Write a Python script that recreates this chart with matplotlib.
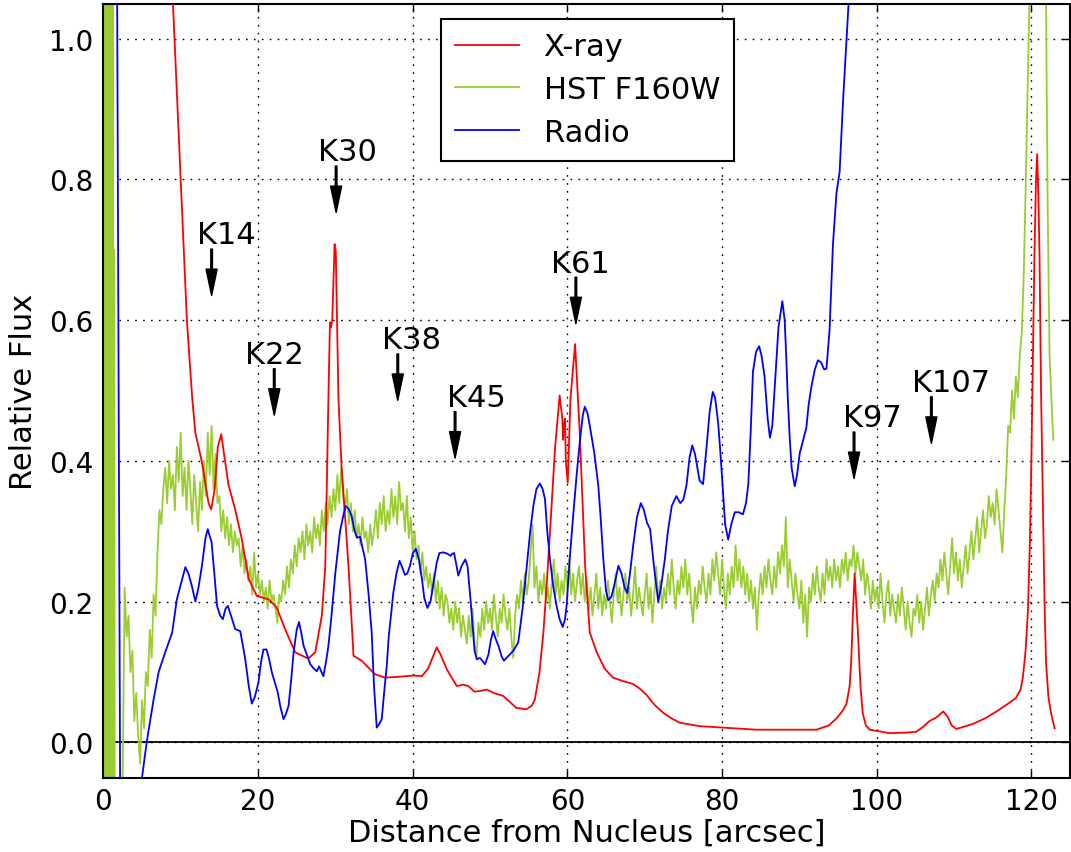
import numpy as np
import matplotlib
matplotlib.use("Agg")
import matplotlib.pyplot as plt

# ---------------- data ----------------
xray_x = [8.5, 9.0, 9.2, 10.0, 10.8, 11.5, 11.9, 12.75, 13.6, 13.95, 14.4, 14.8, 15.25, 15.6, 16.2,
          17.05, 17.9, 18.8, 19.85, 21.4, 22.4, 23.5, 24.8, 26.5, 27.4, 28.25, 28.7, 29.1, 29.3,
          29.45, 29.6, 29.9, 30.05, 30.4, 30.8, 31.7, 32.35, 33.4, 35.1, 36.4, 38.0, 40.1, 41.2,
          42.0, 43.1, 43.6, 44.4, 45.7, 46.5, 47.2, 48.0, 48.7, 49.6, 50.5, 51.7, 52.5, 53.4,
          54.7, 55.4, 55.8, 56.4, 56.9, 57.3, 57.75, 58.4, 59.0, 59.35, 59.45, 59.55, 59.7, 59.8,
          60.05, 60.4, 61.0, 61.6, 62.3, 62.9, 63.8, 64.8, 65.9, 67.2, 68.5, 69.4, 70.2, 71.3,
          72.4, 73.5, 74.5, 77.1, 80.0, 84.4, 92.2, 93.8, 94.8, 95.6, 96.1, 96.5, 96.7, 96.95,
          97.15, 97.35, 97.6, 97.9, 98.2, 98.6, 99.1, 101.7, 104.0, 105.1, 106.0, 106.8, 107.8,
          108.6, 109.2, 109.7, 110.3, 112.4, 114.0, 115.5, 117.0, 118.0, 118.6, 118.9, 119.25,
          119.55, 119.8, 120.0, 120.2, 120.4, 120.6, 120.75, 120.9, 121.05, 121.25, 121.5, 121.7,
          121.9, 122.2, 122.55, 123.0]
xray_y = [1.6, 1.05, 1.0, 0.8, 0.6, 0.488, 0.44, 0.398, 0.34, 0.331, 0.36, 0.42, 0.438, 0.41, 0.365,
          0.331, 0.289, 0.232, 0.208, 0.203, 0.192, 0.161, 0.128, 0.119, 0.128, 0.18, 0.25, 0.488, 0.597,
          0.59, 0.60, 0.708, 0.70, 0.488, 0.393, 0.25, 0.123, 0.116, 0.097, 0.092, 0.093, 0.095, 0.094,
          0.105, 0.135, 0.125, 0.104, 0.08, 0.082, 0.08, 0.072, 0.073, 0.075, 0.07, 0.066, 0.058, 0.049,
          0.047, 0.052, 0.061, 0.1, 0.156, 0.22, 0.298, 0.417, 0.493, 0.46, 0.43, 0.45, 0.46, 0.40,
          0.369, 0.488, 0.566, 0.44, 0.25, 0.156, 0.128, 0.105, 0.092, 0.087, 0.083, 0.076, 0.068, 0.053,
          0.042, 0.034, 0.028, 0.023, 0.021, 0.018, 0.018, 0.024, 0.034, 0.045, 0.055, 0.08, 0.114, 0.19,
          0.24, 0.2, 0.15, 0.08, 0.041, 0.024, 0.018, 0.013, 0.014, 0.015, 0.022, 0.03, 0.036,
          0.044, 0.036, 0.024, 0.019, 0.026, 0.034, 0.044, 0.055, 0.063, 0.075, 0.092, 0.13,
          0.186, 0.28, 0.40, 0.55, 0.694, 0.80, 0.836, 0.78, 0.694, 0.5, 0.33, 0.2,
          0.113, 0.065, 0.041, 0.02]

radio_x = [1.6, 2.25, 4.8, 5.0, 5.6, 6.5, 7.15, 8.0, 8.9, 9.5, 10.6, 11.0, 11.45, 11.9, 12.3, 12.75,
           13.2, 13.5, 14.0, 14.35, 14.7, 15.1, 15.45, 15.8, 16.1, 16.5, 17.05, 17.7, 18.0, 18.35,
           18.8, 19.2, 19.6, 20.05, 20.4, 20.7, 21.1, 21.4, 21.8, 22.55, 22.9, 23.3, 23.6, 23.95,
           24.3, 24.6, 25.0, 25.3, 25.6, 25.9, 26.3, 26.75, 27.2, 27.6, 27.9, 28.2, 28.45, 28.8,
           29.1, 29.5, 30.0, 30.6, 31.3, 31.7, 32.1, 32.5, 32.8, 33.2, 33.85, 34.3, 34.7, 35.0,
           35.35, 35.6, 36.0, 36.3, 36.65, 36.9, 37.5, 37.9, 38.3, 38.6, 39.0, 39.3, 39.65, 40.0,
           40.4, 40.8, 41.2, 41.5, 41.9, 42.3, 42.7, 43.1, 43.45, 44.0, 44.5, 44.9, 45.1, 45.35,
           45.6, 45.9, 46.3, 46.8, 47.1, 47.5, 48.0, 48.3, 48.7, 49.0, 49.35, 49.8, 50.1, 50.4,
           50.8, 51.1, 51.5, 51.8, 52.3, 53.0, 53.65, 54.2, 54.75, 55.2, 55.6, 56.0, 56.45, 56.8,
           57.1, 57.4, 57.75, 58.2, 58.6, 59.0, 59.4, 59.7, 59.9, 60.3, 60.75, 61.2, 61.6, 62.0,
           62.25, 62.6, 62.9, 63.5, 64.0, 64.3, 64.65, 65.0, 65.3, 65.7, 66.1, 66.6, 67.0, 67.4,
           67.75, 68.1, 68.5, 69.0, 69.5, 69.9, 70.3, 70.7, 71.2, 71.75, 72.1, 72.6, 73.0, 73.5,
           74.1, 74.6, 75.0, 75.4, 75.8, 76.15, 76.5, 77.1, 77.55, 78.0, 78.4, 78.8, 79.1, 79.5,
           79.8, 80.1, 80.4, 80.8, 81.2, 81.65, 82.2, 82.7, 83.1, 83.4, 83.7, 84.0, 84.4, 84.8,
           85.1, 85.5, 85.9, 86.2, 86.5, 86.9, 87.3, 87.8, 88.1, 88.3, 88.5, 88.75, 89.0, 89.4,
           89.7, 90.05, 90.5, 90.9, 91.2, 91.55, 92.0, 92.4, 92.8, 93.2, 93.5, 93.9, 94.35, 94.8,
           95.2, 95.65, 96.1, 96.4, 97.0]
radio_y = [1.6, -0.3, -0.3, -0.05, 0.0, 0.061, 0.1, 0.128, 0.156, 0.203, 0.249, 0.24, 0.222, 0.2, 0.22, 0.251,
           0.29, 0.303, 0.284, 0.24, 0.194, 0.18, 0.175, 0.19, 0.194, 0.18, 0.161, 0.158, 0.14, 0.118,
           0.08, 0.055, 0.065, 0.085, 0.115, 0.132, 0.132, 0.12, 0.099, 0.071, 0.05, 0.033, 0.04, 0.052,
           0.09, 0.128, 0.16, 0.171, 0.155, 0.137, 0.125, 0.111, 0.105, 0.101, 0.108, 0.1, 0.094, 0.115,
           0.137, 0.18, 0.241, 0.3, 0.336, 0.332, 0.322, 0.3, 0.291, 0.292, 0.26, 0.21, 0.156, 0.08,
           0.021, 0.025, 0.033, 0.07, 0.109, 0.15, 0.213, 0.24, 0.258, 0.25, 0.238, 0.24, 0.251, 0.268,
           0.275, 0.26, 0.232, 0.205, 0.191, 0.2, 0.227, 0.255, 0.269, 0.27, 0.268, 0.265, 0.268, 0.269,
           0.255, 0.237, 0.25, 0.26, 0.25, 0.2, 0.13, 0.118, 0.12, 0.116, 0.111, 0.125, 0.145, 0.158,
           0.145, 0.137, 0.122, 0.116, 0.122, 0.13, 0.142, 0.19, 0.251, 0.3, 0.336, 0.36, 0.368, 0.36,
           0.346, 0.3, 0.26, 0.22, 0.194, 0.175, 0.164, 0.175, 0.194, 0.26, 0.322, 0.38, 0.426, 0.465,
           0.477, 0.468, 0.45, 0.41, 0.365, 0.32, 0.26, 0.215, 0.202, 0.207, 0.225, 0.251, 0.24, 0.22,
           0.212, 0.24, 0.279, 0.32, 0.34, 0.33, 0.312, 0.303, 0.25, 0.2, 0.22, 0.26, 0.3, 0.336,
           0.35, 0.34, 0.345, 0.365, 0.405, 0.422, 0.41, 0.372, 0.367, 0.42, 0.47, 0.498, 0.49, 0.454,
           0.41, 0.36, 0.31, 0.288, 0.31, 0.327, 0.327, 0.324, 0.34, 0.367, 0.44, 0.527, 0.555, 0.563,
           0.55, 0.52, 0.46, 0.433, 0.45, 0.52, 0.59, 0.627, 0.6, 0.549, 0.49, 0.433, 0.39, 0.364,
           0.38, 0.411, 0.43, 0.447, 0.48, 0.505, 0.53, 0.543, 0.54, 0.53, 0.531, 0.585, 0.709, 0.781,
           0.81, 0.912, 0.999, 1.057, 1.3]

# HST F160W: saturated nucleus (x 0 - 2.4)
hst_nuc_x = [0.0, 0.05, 0.1, 0.15, 0.2, 0.25, 0.3, 0.35, 0.4, 0.45, 0.5, 0.55, 0.6, 0.65, 0.7,
             0.75, 0.8, 0.85, 0.9, 0.95, 1.0, 1.05, 1.1, 1.15, 1.2, 1.25, 1.3, 1.35, 1.4, 1.5, 2.4]
hst_nuc_y = [2.0, -0.5, 2.0, -0.5, 2.0, -0.5, 2.0, -0.5, 2.0, -0.5, 2.0, -0.5, 2.0, -0.5, 2.0,
             -0.5, 2.0, -0.5, 2.0, -0.5, 2.0, -0.5, 2.0, -0.5, 2.0, -0.5, 0.70, -0.5, 0.70, -0.5, -0.5]
# HST F160W profile sampled every 0.25 arcsec from 2.5 arcsec
hst_step_start = 2.5
hst_step = 0.25
hst_y = [
    -0.05, 0.22, 0.15, 0.18, 0.10, 0.13, 0.03, 0.07, 0.01, -0.03,
    0.06, 0.02, 0.10, 0.08, 0.16, 0.12, 0.21, 0.18, 0.27, 0.33,
    0.31, 0.36, 0.39, 0.34, 0.40, 0.36, 0.38, 0.33, 0.42, 0.37,
    0.44, 0.35, 0.39, 0.33, 0.40, 0.36, 0.31, 0.38, 0.34, 0.30,
    0.37, 0.33, 0.40, 0.35, 0.44, 0.38, 0.45, 0.36, 0.41, 0.34,
    0.35, 0.30, 0.33, 0.29, 0.32, 0.28, 0.31, 0.27, 0.30, 0.28,
    0.29, 0.25, 0.28, 0.24, 0.26, 0.23, 0.25, 0.21, 0.27, 0.22,
    0.24, 0.21, 0.23, 0.20, 0.22, 0.19, 0.23, 0.20, 0.21, 0.19,
    0.17, 0.21, 0.20, 0.23, 0.21, 0.25, 0.22, 0.26, 0.24, 0.28,
    0.25, 0.29, 0.27, 0.30, 0.26, 0.31, 0.28, 0.30, 0.27, 0.32,
    0.29, 0.31, 0.28, 0.33, 0.30, 0.34, 0.31, 0.35, 0.32, 0.36,
    0.33, 0.38, 0.34, 0.39, 0.35, 0.33, 0.36, 0.31, 0.34, 0.30,
    0.33, 0.29, 0.31, 0.28, 0.32, 0.29, 0.30, 0.27, 0.31, 0.28,
    0.30, 0.33, 0.29, 0.34, 0.31, 0.35, 0.30, 0.33, 0.31, 0.36,
    0.32, 0.35, 0.31, 0.37, 0.33, 0.34, 0.30, 0.35, 0.29, 0.32,
    0.27, 0.30, 0.26, 0.28, 0.24, 0.27, 0.23, 0.25, 0.22, 0.24,
    0.21, 0.24, 0.20, 0.23, 0.19, 0.22, 0.18, 0.21, 0.20, 0.17,
    0.19, 0.16, 0.20, 0.17, 0.19, 0.15, 0.18, 0.16, 0.14, 0.18,
    0.15, 0.19, 0.14, 0.12, 0.17, 0.15, 0.19, 0.16, 0.20, 0.17,
    0.19, 0.16, 0.21, 0.18, 0.15, 0.19, 0.17, 0.21, 0.18, 0.16,
    0.19, 0.15, 0.12, 0.18, 0.21, 0.19, 0.23, 0.20, 0.24, 0.21,
    0.23, 0.27, 0.31, 0.22, 0.25, 0.20, 0.23, 0.21, 0.24, 0.20,
    0.22, 0.19, 0.23, 0.26, 0.21, 0.24, 0.20, 0.23, 0.21, 0.25,
    0.22, 0.26, 0.21, 0.24, 0.20, 0.23, 0.25, 0.21, 0.24, 0.20,
    0.23, 0.19, 0.22, 0.18, 0.21, 0.24, 0.19, 0.22, 0.18, 0.21,
    0.19, 0.23, 0.20, 0.17, 0.21, 0.24, 0.20, 0.22, 0.18, 0.21,
    0.24, 0.20, 0.22, 0.18, 0.21, 0.25, 0.19, 0.22, 0.20, 0.18,
    0.21, 0.24, 0.19, 0.22, 0.17, 0.21, 0.25, 0.20, 0.23, 0.19,
    0.22, 0.20, 0.24, 0.21, 0.26, 0.22, 0.19, 0.23, 0.21, 0.25,
    0.22, 0.26, 0.21, 0.24, 0.20, 0.17, 0.22, 0.19, 0.23, 0.21,
    0.25, 0.22, 0.20, 0.24, 0.21, 0.26, 0.23, 0.27, 0.24, 0.21,
    0.26, 0.22, 0.19, 0.24, 0.21, 0.25, 0.22, 0.28, 0.23, 0.26,
    0.22, 0.25, 0.21, 0.24, 0.20, 0.23, 0.19, 0.22, 0.16, 0.21,
    0.24, 0.21, 0.25, 0.22, 0.26, 0.23, 0.21, 0.25, 0.22, 0.27,
    0.24, 0.28, 0.25, 0.32, 0.22, 0.26, 0.23, 0.20, 0.24, 0.21,
    0.19, 0.23, 0.17, 0.21, 0.15, 0.22, 0.20, 0.24, 0.21, 0.25,
    0.22, 0.20, 0.24, 0.21, 0.26, 0.23, 0.25, 0.22, 0.26, 0.23,
    0.25, 0.22, 0.26, 0.24, 0.27, 0.23, 0.26, 0.25, 0.28, 0.24,
    0.27, 0.25, 0.23, 0.26, 0.21, 0.24, 0.22, 0.19, 0.23, 0.20,
    0.22, 0.19, 0.24, 0.20, 0.17, 0.21, 0.23, 0.18, 0.21, 0.19,
    0.17, 0.21, 0.18, 0.22, 0.19, 0.16, 0.20, 0.17, 0.15, 0.19,
    0.18, 0.21, 0.17, 0.20, 0.16, 0.19, 0.22, 0.18, 0.21, 0.23,
    0.20, 0.24, 0.22, 0.26, 0.23, 0.27, 0.24, 0.21, 0.25, 0.29,
    0.24, 0.27, 0.23, 0.26, 0.22, 0.25, 0.28, 0.24, 0.27, 0.30,
    0.26, 0.29, 0.32, 0.27, 0.30, 0.33, 0.29, 0.31, 0.35, 0.32,
    0.34, 0.31, 0.36, 0.33, 0.30, 0.27, 0.33, 0.38, 0.45, 0.44,
    0.50, 0.46, 0.52, 0.49, 0.55, 0.58, 0.66, 0.78, 0.92, 1.05,
]
hst_tail_x = [120.2, 121.5, 121.9, 122.1, 122.35, 122.5, 122.6, 122.7, 122.85]
hst_tail_y = [1.6, 1.6, 1.05, 0.77, 0.55, 0.51, 0.48, 0.46, 0.43]

knot_names = ["K14", "K22", "K30", "K38", "K45", "K61", "K97", "K107"]
knot_x = [14.0, 22.1, 30.1, 38.07, 45.48, 61.1, 97.07, 107.07]
knot_tip_y = [0.635, 0.465, 0.753, 0.486, 0.404, 0.595, 0.375, 0.425]
# text left offsets relative to arrow (layout)
knot_text_dx = [-1.9, -3.75, -2.36, -2.07, -1.08, -3.2, -1.42, -2.47]

series_labels = ["X-ray", "HST F160W", "Radio"]
x_ticks = [0, 20, 40, 60, 80, 100, 120]
y_ticks = [0.0, 0.2, 0.4, 0.6, 0.8, 1.0]

# ---------------- plot ----------------
plt.rcParams['font.family'] = ['DejaVu Sans']
fig = plt.figure(figsize=(10.71, 8.53), dpi=100)
ax = fig.add_axes([0.0965, 0.0873, 0.9026, 0.9074])

hst_x_full = list(hst_nuc_x) + [hst_step_start + hst_step * i for i in range(len(hst_y))] + hst_tail_x
hst_y_full = list(hst_nuc_y) + hst_y + hst_tail_y

ax.plot(xray_x, xray_y, color='#ff0000', lw=1.3, label=series_labels[0], zorder=3)
ax.plot(hst_x_full, hst_y_full, color='#9acd32', lw=1.3, label=series_labels[1], zorder=2)
ax.plot(radio_x, radio_y, color='#0000ff', lw=1.3, label=series_labels[2], zorder=4)

ax.axhline(0, color='k', lw=1.3, zorder=1)

ax.set_xlim(0, 125)
ax.set_ylim(-0.05, 1.05)
ax.set_xticks(x_ticks)
ax.set_yticks(y_ticks)
ax.set_yticklabels([f"{v:.1f}" for v in y_ticks])
ax.tick_params(direction='in', top=True, right=True, length=6, width=1, labelsize=20, pad=7)
ax.grid(True, color='k', linestyle=(0, (1.2, 4.5)), linewidth=1.0)
for sp in ax.spines.values():
    sp.set_linewidth(1.5)

ax.set_xlabel("Distance from Nucleus [arcsec]", fontsize=22, labelpad=2)
ax.set_ylabel("Relative Flux", fontsize=22, labelpad=8)

for name, kx, ty, dx in zip(knot_names, knot_x, knot_tip_y, knot_text_dx):
    ax.annotate('', xy=(kx, ty), xytext=(kx, ty + 0.066),
                arrowprops=dict(facecolor='black', edgecolor='black', width=1.2,
                                headwidth=8, headlength=19, shrink=0.0), zorder=6)
    ax.text(kx + dx, ty + 0.074, name, fontsize=22, ha='left', va='baseline', zorder=6)

leg = ax.legend(loc='upper left', bbox_to_anchor=(0.3495, 0.9806), borderaxespad=0,
                fontsize=22, fancybox=False, edgecolor='k', framealpha=1,
                handlelength=2.1, handletextpad=0.8, labelspacing=0.45, borderpad=0.45)
leg.get_frame().set_linewidth(1.5)

fig.savefig("out.png", dpi=100)
